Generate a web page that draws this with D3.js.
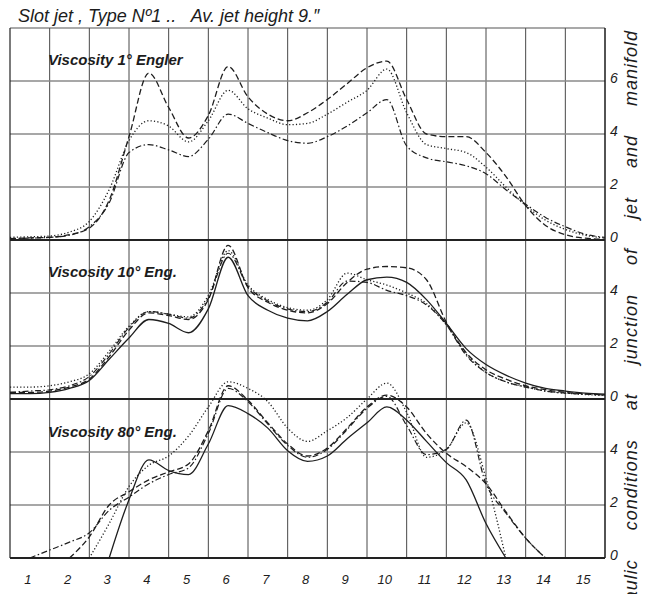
<!DOCTYPE html>
<html>
<head>
<meta charset="utf-8">
<script src="https://cdn.jsdelivr.net/npm/d3@7"></script>
<style>
  html, body { margin: 0; padding: 0; background: #fff; }
  svg { display: block; }
  text { font-family: "Liberation Sans", "DejaVu Sans", sans-serif; font-style: italic; fill: #1c1c1c; }
</style>
</head>
<body>
<svg id="chart" width="647" height="594"></svg>
<script>
// Jet positions along the manifold (half-jet sampling)
const jets = [0.5, 1, 1.5, 2, 2.5, 3, 3.5, 4, 4.5, 5, 5.5, 6, 6.5, 7, 7.5, 8,
              8.5, 9, 9.5, 10, 10.5, 11, 11.5, 12, 12.5, 13, 13.5, 14, 14.5, 15, 15.5];
const jetLabels = ["1","2","3","4","5","6","7","8","9","10","11","12","13","14","15"];

// Viscosity 1° Engler
const topDashed  = [0.05,0.08,0.1,0.2,0.45,1.5,3.9,6.3,5.0,3.85,4.7,6.55,5.4,4.75,4.5,4.8,5.3,5.9,6.5,6.75,5.3,4.0,3.9,3.9,3.3,2.4,1.3,0.55,0.2,0.07,0.03];
const topDotted  = [0.1,0.12,0.15,0.3,0.7,1.9,3.75,4.5,4.3,3.7,4.5,5.65,4.95,4.6,4.35,4.4,4.75,5.2,5.65,6.45,4.8,3.6,3.45,3.3,2.75,2.0,1.3,0.75,0.4,0.18,0.08];
const topDashDot = [0.05,0.07,0.1,0.18,0.5,1.4,3.3,3.6,3.4,3.15,3.8,4.75,4.4,4.05,3.75,3.65,3.9,4.3,4.8,5.3,3.55,3.1,2.95,2.8,2.5,1.9,1.35,0.85,0.5,0.22,0.1];

// Viscosity 10° Engler
const midSolid   = [0.2,0.2,0.25,0.4,0.7,1.5,2.3,3.0,2.85,2.5,3.4,5.35,3.9,3.35,3.05,2.95,3.3,3.95,4.5,4.6,4.4,3.75,2.85,1.9,1.3,0.9,0.6,0.4,0.3,0.22,0.18];
const midDashed  = [0.25,0.25,0.3,0.45,0.75,1.6,2.6,3.25,3.15,3.0,3.75,5.8,4.2,3.65,3.35,3.25,3.6,4.4,4.9,5.0,4.95,4.5,2.9,1.75,1.1,0.75,0.5,0.35,0.25,0.2,0.15];
const midDotted  = [0.45,0.45,0.5,0.65,0.95,1.8,2.75,3.3,3.2,3.1,3.9,5.6,4.3,3.75,3.45,3.35,3.75,4.75,4.5,4.3,4.0,3.6,2.8,1.7,1.0,0.65,0.45,0.3,0.22,0.17,0.13];
const midDashDot = [0.25,0.3,0.35,0.5,0.85,1.7,2.7,3.3,3.2,3.05,3.8,5.5,4.25,3.7,3.4,3.3,3.65,4.45,4.4,4.1,3.9,3.55,2.8,1.65,1.0,0.65,0.45,0.3,0.22,0.18,0.15];

// Viscosity 80° Engler
const lowSolid   = [null,null,null,null,null,0,2.2,3.7,3.3,3.15,4.3,5.75,5.45,4.9,4.05,3.65,3.85,4.5,5.1,5.7,5.2,4.4,3.6,2.95,1.3,0,null,null,null,null,null];
const lowDashed  = [null,null,null,0,0.8,2.0,2.5,2.95,3.25,3.55,4.8,6.5,5.95,5.1,4.3,3.85,4.15,4.9,5.7,6.15,5.7,4.7,3.95,3.45,2.8,1.75,0.75,0,null,null,null];
const lowDotted  = [null,null,null,null,0,1.3,2.7,3.5,3.85,4.6,5.7,6.65,6.4,5.9,4.9,4.4,4.8,5.3,6.0,6.6,5.5,3.8,4.1,5.1,3.0,0,null,null,null,null,null];
const lowDashDot = [null,0,0.3,0.6,0.95,1.8,2.3,2.8,3.15,3.4,4.7,6.4,5.9,5.05,4.25,3.8,4.1,4.85,5.65,6.1,5.0,3.9,4.1,5.2,2.8,1.7,0.75,0,null,null,null];

const panelTitles = ["Viscosity 1° Engler", "Viscosity 10° Eng.", "Viscosity 80° Eng."];
const topTicks = [0, 2, 4, 6];
const lowerTicks = [0, 2, 4];
const chartTitle = "Slot jet , Type Nº1 ..   Av. jet height 9.″";
const sideCaption = "Hydraulic conditions at junction of jet and manifold";

// ---- layout ----
const svg = d3.select("#chart");
const W = 647, H = 594;
const plotLeft = 10, plotRight = 605, plotTop = 28, plotBottom = 558;
const unitsHigh = 20;                       // the whole grid spans 20 units
const unit = (plotBottom - plotTop) / unitsHigh;

const x = d3.scaleLinear().domain([0.5, 15.5]).range([plotLeft, plotRight]);

// three stacked panels share one grid; each is offset by 6 units
const panelZero = [plotBottom - 12 * unit, plotBottom - 6 * unit, plotBottom];
const yScales = panelZero.map(z => d3.scaleLinear().domain([0, 1]).range([z, z - unit]));

const panels = [
  { y: yScales[0], ticks: topTicks, gridTicks: [0, 2, 4, 6, 8], title: panelTitles[0],
    series: [ { v: topDashed, s: "dashed" }, { v: topDotted, s: "dotted" }, { v: topDashDot, s: "dashdot" } ] },
  { y: yScales[1], ticks: lowerTicks, gridTicks: [0, 2, 4], title: panelTitles[1],
    series: [ { v: midSolid, s: "solid" }, { v: midDashed, s: "dashed" }, { v: midDotted, s: "dotted" }, { v: midDashDot, s: "dashdot" } ] },
  { y: yScales[2], ticks: lowerTicks, gridTicks: [0, 2, 4], title: panelTitles[2],
    series: [ { v: lowSolid, s: "solid" }, { v: lowDashed, s: "dashed" }, { v: lowDotted, s: "dotted" }, { v: lowDashDot, s: "dashdot" } ] }
];

const strokeStyle = {
  solid:   { dash: null,              w: 1.3 },
  dashed:  { dash: "6,3",             w: 1.3 },
  dotted:  { dash: "1.2,2.2",         w: 1.3 },
  dashdot: { dash: "6,2.5,1.5,2.5",   w: 1.2 }
};

svg.append("rect").attr("width", W).attr("height", H).attr("fill", "#fff");

const grid = svg.append("g");

// vertical rules between jets
const cellEdges = x.ticks(30).filter(t => Math.abs(t % 1 - 0.5) < 1e-9 && t > 0.5 && t < 15.5);
grid.selectAll("line.v").data(cellEdges).enter().append("line")
  .attr("x1", d => x(d)).attr("x2", d => x(d))
  .attr("y1", plotTop).attr("y2", plotBottom)
  .attr("stroke", "#333").attr("stroke-width", 0.9);

// horizontal rules of each panel
panels.forEach(p => {
  grid.selectAll(null).data(p.gridTicks.filter(t => t > 0)).enter().append("line")
    .attr("x1", plotLeft).attr("x2", plotRight)
    .attr("y1", d => p.y(d)).attr("y2", d => p.y(d))
    .attr("stroke", d => (p.y(d) <= plotTop + 0.5) ? "#555" : "#8a8a8a")
    .attr("stroke-width", d => (p.y(d) <= plotTop + 0.5) ? 1.2 : 1.6);
});

// frame: left edge and right axis
grid.append("line").attr("x1", plotLeft).attr("x2", plotLeft)
  .attr("y1", plotTop).attr("y2", plotBottom).attr("stroke", "#222").attr("stroke-width", 1.2);
grid.append("line").attr("x1", plotRight).attr("x2", plotRight)
  .attr("y1", plotTop).attr("y2", plotBottom).attr("stroke", "#1a1a1a").attr("stroke-width", 1.5);

// heavy zero lines of each panel
panels.forEach(p => {
  grid.append("line").attr("x1", plotLeft).attr("x2", plotRight)
    .attr("y1", p.y(0)).attr("y2", p.y(0))
    .attr("stroke", "#222").attr("stroke-width", 2.2);
});

// curves
const curves = svg.append("g").attr("fill", "none");
panels.forEach(p => {
  const line = d3.line()
    .defined(d => d[1] !== null)
    .x(d => x(d[0]))
    .y(d => p.y(d[1]))
    .curve(d3.curveMonotoneX);
  p.series.forEach(s => {
    const st = strokeStyle[s.s];
    curves.append("path")
      .attr("d", line(jets.map((j, i) => [j, s.v[i]])))
      .attr("stroke", "#1e1e1e")
      .attr("stroke-width", st.w)
      .attr("stroke-dasharray", st.dash)
      .attr("stroke-linejoin", "round");
  });
});

// right-hand value labels
panels.forEach(p => {
  svg.append("g").selectAll("text").data(p.ticks).enter().append("text")
    .attr("x", plotRight + 5)
    .attr("y", d => p.y(d) + 2)
    .attr("font-size", 14)
    .text(d => d);
});

// jet numbers along the bottom
svg.append("g").selectAll("text").data(jetLabels).enter().append("text")
  .attr("x", d => x(+d) - 2)
  .attr("y", plotBottom + 26)
  .attr("text-anchor", "middle")
  .attr("font-size", 13)
  .text(d => d);

// panel titles
const titleOffsets = [6.6, 4.6, 4.55];
panels.forEach((p, i) => {
  svg.append("text")
    .attr("x", 48)
    .attr("y", p.y(titleOffsets[i]))
    .attr("font-size", 15)
    .attr("font-weight", "bold")
    .text(p.title);
});

// chart title
svg.append("text")
  .attr("x", 18).attr("y", 22)
  .attr("font-size", 18)
  .style("white-space", "pre")
  .text(chartTitle);

// side caption, reading upwards (runs off the bottom edge)
svg.append("text")
  .attr("transform", `translate(637, 30) rotate(-90)`)
  .attr("text-anchor", "end")
  .attr("font-size", 18)
  .attr("letter-spacing", 1)
  .attr("word-spacing", 23)
  .text(sideCaption);
</script>
</body>
</html>
